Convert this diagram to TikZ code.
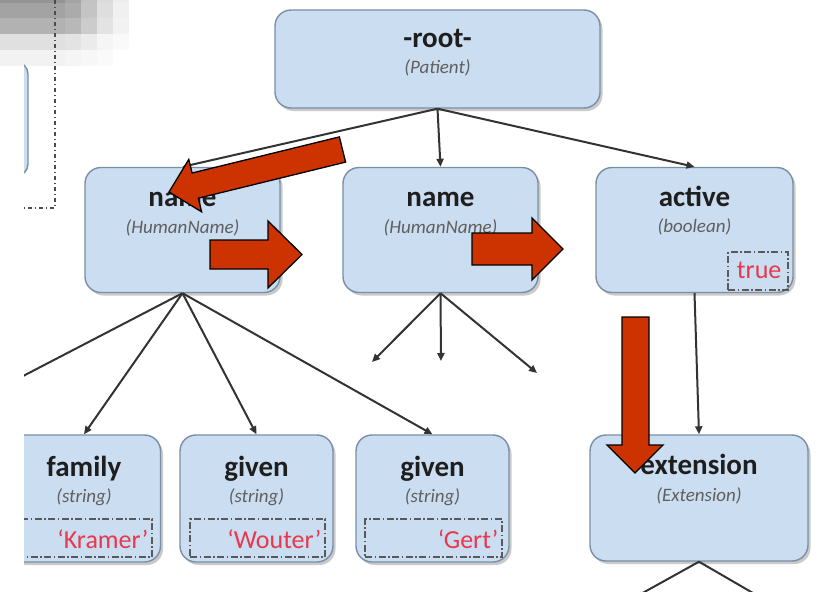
\documentclass[tikz,border=0pt]{standalone}
\usepackage{fontspec}
\setmainfont{Carlito}
\usetikzlibrary{arrows.meta,shadows}
\definecolor{boxfill}{RGB}{203,221,240}
\definecolor{boxline}{RGB}{122,142,165}
\definecolor{valred}{RGB}{232,56,78}
\definecolor{blockred}{RGB}{204,51,0}
\definecolor{subgrey}{RGB}{95,95,95}
\definecolor{titleink}{RGB}{30,30,30}
\begin{document}
\begin{tikzpicture}[x=1pt,y=-1pt,
  elem/.style={draw=boxline, line width=1.4pt, fill=boxfill, rounded corners=16pt,
    drop shadow={shadow xshift=2.5pt, shadow yshift=-3pt, opacity=0.35, fill=black!60},
    inner sep=0pt},
  midbox/.style={elem, minimum width=195pt, minimum height=125pt},
  leafbox/.style={elem, minimum width=153pt, minimum height=127pt},
  title/.style={font=\bfseries\fontsize{29}{32}\selectfont, text=titleink, inner sep=0pt, anchor=base},
  sub/.style={font=\itshape\fontsize{19}{22}\selectfont, text=subgrey, inner sep=0pt, anchor=base},
  val/.style={font=\fontsize{26}{28}\selectfont, text=valred, inner sep=0pt, anchor=base east},
  valbox/.style={draw=black!65, line width=1.1pt, dash pattern=on 7pt off 2.5pt on 1.5pt off 2.5pt,
    minimum height=38pt, inner sep=0pt},
  edge/.style={draw=black!80, line width=2pt, -{Triangle[length=8pt,width=7pt]}},
  blockarrow/.style={fill=blockred, draw=black, line width=1.3pt, line join=miter},
  guide/.style={draw=black!70, line width=1.1pt, dash pattern=on 4pt off 3pt on 1pt off 3pt}]
\useasboundingbox (0,0) rectangle (820,592);

% pixelated corner patch
\foreach \ya/\yb/\ca/\cb/\cc/\cd/\ce in {0/3/42/36/24/14/7, 3/18/36/33/23/13/6, 18/34/30/28/20/11/5,
    34/50/12/11/8/4/2, 50/66/5/4/3/2/0}{
  \fill[black!\ca] (0,\ya) rectangle (65,\yb);
  \fill[black!\cb] (65,\ya) rectangle (81,\yb);
  \fill[black!\cc] (81,\ya) rectangle (97,\yb);
  \fill[black!\cd] (97,\ya) rectangle (113,\yb);
  \fill[black!\ce] (113,\ya) rectangle (129,\yb);
}

\begin{scope}
\clip (24,0) rectangle (820,592);

% neighbouring panel on the left edge
\draw[draw=boxline, line width=1.4pt, fill=boxfill, rounded corners=12pt] (-100,62) rectangle (28,176);
\draw[guide] (55,0) -- (55,208) -- (24,208);

% boxes
\node[elem, minimum width=325pt, minimum height=98pt] (root) at (437.5,59) {};
\node[title] at ([yshift=-38pt]root.north) {-root-};
\node[sub] at ([yshift=-64pt]root.north) {(Patient)};

\node[midbox] (name1) at (182.5,230) {};
\node[title] at ([yshift=-40pt]name1.north) {name};
\node[sub] at ([yshift=-67pt]name1.north) {(HumanName)};

\node[midbox] (name2) at (440.5,230) {};
\node[title] at ([yshift=-40pt]name2.north) {name};
\node[sub] at ([yshift=-67pt]name2.north) {(HumanName)};

\node[midbox, minimum width=197pt] (active) at (694.5,230) {};
\node[title] at ([yshift=-40pt]active.north) {active};
\node[sub] at ([yshift=-66pt]active.north) {(boolean)};
\node[valbox, minimum width=60pt] (tval) at (758,271) {};
\node[val] at ([xshift=-7pt,yshift=-7pt]tval.east) {true};

\node[leafbox] (family) at (84,498.5) {};
\node[title] at ([yshift=-42pt]family.north) {family};
\node[sub] at ([yshift=-68pt]family.north) {(string)};
\node[valbox, minimum width=135pt] (fval) at (84.5,538) {};
\node[val] at ([xshift=-4pt,yshift=-10pt]fval.east) {‘Kramer’};

\node[leafbox] (given1) at (256.5,498.5) {};
\node[title] at ([yshift=-42pt]given1.north) {given};
\node[sub] at ([yshift=-68pt]given1.north) {(string)};
\node[valbox, minimum width=135pt] (g1val) at (257.5,538) {};
\node[val] at ([xshift=-4pt,yshift=-10pt]g1val.east) {‘Wouter’};

\node[leafbox] (given2) at (432.5,498.5) {};
\node[title] at ([yshift=-42pt]given2.north) {given};
\node[sub] at ([yshift=-68pt]given2.north) {(string)};
\node[valbox, minimum width=137pt] (g2val) at (433.5,538) {};
\node[val] at ([xshift=-4pt,yshift=-10pt]g2val.east) {‘Gert’};

\node[elem, minimum width=218pt, minimum height=126pt] (ext) at (699,498) {};
\node[title] at ([yshift=-40pt]ext.north) {extension};
\node[sub] at ([yshift=-67pt]ext.north) {(Extension)};

% loose ends
\coordinate (offleft) at (0,388);
\coordinate (n2a) at (372,362);
\coordinate (n2b) at (441,361);
\coordinate (n2c) at (537,373);
\coordinate (exa) at (630,600);
\coordinate (exb) at (765,600);

% connectors
\draw[edge] (root.south) -- (name1.north);
\draw[edge] (root.south) -- (name2.north);
\draw[edge] (root.south) -- (active.north);
\draw[edge, -] (name1.south) -- (offleft);
\draw[edge] (name1.south) -- (family.north);
\draw[edge] (name1.south) -- (given1.north);
\draw[edge] (name1.south) -- (given2.north);
\draw[edge] (name2.south) -- (n2a);
\draw[edge] (name2.south) -- (n2b);
\draw[edge] (name2.south) -- (n2c);
\draw[edge] (active.south) -- (ext.north);
\draw[edge, -] (ext.south) -- (exa);
\draw[edge, -] (ext.south) -- (exb);
\end{scope}

% block arrows
\draw[blockarrow] (339.4,136.9) -- (192.1,173.0) -- (188.8,159.4) -- (169,192)
  -- (201.6,211.8) -- (198.3,198.2) -- (345.6,162.1) -- cycle;
\draw[blockarrow] (210,240) -- (268,240) -- (268,221) -- (302,254.5) -- (268,288) -- (268,269) -- (210,269) -- cycle;
\draw[blockarrow] (472,233) -- (532,233) -- (532,218) -- (563,249) -- (532,280) -- (532,265) -- (472,265) -- cycle;
\draw[blockarrow] (622,317) -- (649,317) -- (649,445) -- (663,445) -- (635,473) -- (607,445) -- (622,445) -- cycle;
\end{tikzpicture}
\end{document}
